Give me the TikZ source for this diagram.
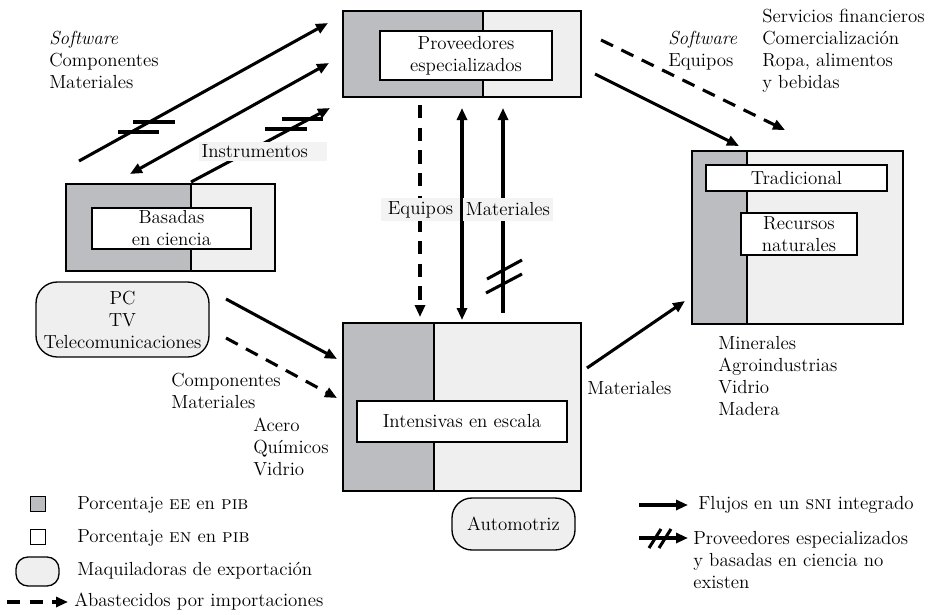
\documentclass[tikz,border=0pt]{standalone}
\usetikzlibrary{arrows.meta}
\definecolor{dk}{HTML}{BCBDC0}
\definecolor{lt}{HTML}{EFEFEF}
\definecolor{lb}{HTML}{F3F3F3}
\newcommand\sectorbox[5]{%
  \fill[lt] (#1,#2) rectangle (#4,#5);
  \fill[dk] (#1,#2) rectangle (#3,#5);
  \draw[line width=1pt] (#3,#2) -- (#3,#5);
  \draw[line width=1.2pt] (#1,#2) rectangle (#4,#5);}
\begin{document}
\begin{tikzpicture}[x=0.75pt,y=-0.75pt,
  font=\fontsize{14.2}{16.5}\selectfont,
  txt/.style={inner sep=0pt, align=left, anchor=west},
  inbox/.style={draw, fill=white, line width=1pt, inner sep=0pt, align=center},
  pill/.style={draw, fill=lt, line width=1pt, inner sep=0pt, align=center},
  flow/.style={line width=2.3pt, -{Triangle[length=9pt,width=7.5pt]}},
  both/.style={line width=2.3pt, {Triangle[length=9pt,width=7.5pt]}-{Triangle[length=9pt,width=7.5pt]}},
  imp/.style={flow, dash pattern=on 10pt off 7pt},
  bar/.style={line width=2.3pt},
  lab/.style={fill=lb, inner sep=0pt}]
\useasboundingbox (0,0) rectangle (928,614);

% sector boxes
\sectorbox{343}{11}{483}{581}{97}
\sectorbox{66}{184}{191}{275}{271}
\sectorbox{343}{323}{434}{581}{491}
\sectorbox{692}{151}{747}{903}{324}

\node[inbox, minimum width=129pt, minimum height=36.75pt] (prov) at (466,55.5) {Proveedores\\especializados};
\node[inbox, minimum width=119.25pt, minimum height=30.75pt] (bas) at (171.5,228.5) {Basadas\\en ciencia};
\node[inbox, minimum width=157.5pt, minimum height=30.75pt] (int) at (462,421.5) {Intensivas en escala};
\node[inbox, minimum width=135.75pt, minimum height=19.5pt] (trad) at (796.5,178) {Tradicional};
\node[inbox, minimum width=87pt, minimum height=31.5pt] (rec) at (799,234) {Recursos\\naturales};

\node[pill, rounded corners=16pt, minimum width=129.75pt, minimum height=56.25pt] (pc) at (122.5,319.5) {PC\\TV\\Telecomunicaciones};
\node[pill, rounded corners=15pt, minimum width=92.25pt, minimum height=39pt] (auto) at (513.5,524) {Automotriz};

% connector endpoints
\coordinate (a1s) at (79,161);  \coordinate (a1e) at (328,23);
\coordinate (a2s) at (130,174); \coordinate (a2e) at (329,63);
\coordinate (a3s) at (191,182); \coordinate (a3e) at (330,108);
\coordinate (a4s) at (420,105); \coordinate (a4e) at (420,317);
\coordinate (a5s) at (462,108); \coordinate (a5e) at (462,320);
\coordinate (a6s) at (503,313); \coordinate (a6e) at (503,108);
\coordinate (a7s) at (601,40);  \coordinate (a7e) at (785,130);
\coordinate (a8s) at (595,74);  \coordinate (a8e) at (739,146);
\coordinate (a9s) at (226,299); \coordinate (a9e) at (337,359);
\coordinate (a10s) at (226,338); \coordinate (a10e) at (337,398);
\coordinate (a11s) at (587,368); \coordinate (a11e) at (685,301);

\draw[flow] (a1s) -- (a1e);
\draw[bar] (133,122) -- (175,122);
\draw[bar] (118,132) -- (159,132);
\draw[both] (a2s) -- (a2e);
\draw[flow] (a3s) -- (a3e);
\draw[bar] (282,119) -- (323,119);
\draw[bar] (265,129) -- (307,129);
\node[lab, minimum width=96pt, minimum height=14.25pt, text width=92pt, align=left] (instr) at (263,151.5) {Instrumentos};

\draw[imp] (a4s) -- (a4e);
\draw[both] (a5s) -- (a5e);
\draw[flow] (a6s) -- (a6e);
\draw[bar] (487,279) -- (522,260);
\draw[bar] (486,293) -- (522,274);
\node[lab, minimum width=59.25pt, minimum height=17.25pt] (equ) at (420.5,209.5) {Equipos};
\node[lab, minimum width=67.5pt, minimum height=17.25pt] (mat) at (508,209.5) {Materiales};

\draw[imp] (a7s) -- (a7e);
\draw[flow] (a8s) -- (a8e);
\draw[flow] (a9s) -- (a9e);
\draw[imp] (a10s) -- (a10e);
\draw[flow] (a11s) -- (a11e);

% texts
\node[txt] (t1) at (49,60) {\textit{Software}\\Componentes\\Materiales};
\node[txt] (t2) at (668,51) {\textit{Software}\\Equipos};
\node[txt] (t3) at (762,51) {Servicios financieros\\Comercialización\\Ropa, alimentos\\y bebidas};
\node[txt] (t4) at (171,391) {Componentes\\Materiales};
\node[txt] (t5) at (253,447) {Acero\\Químicos\\Vidrio};
\node[txt] (t6) at (587,388) {Materiales};
\node[txt] (t7) at (718,376) {Minerales\\Agroindustrias\\Vidrio\\Madera};

% legend
\node[draw, fill=dk, line width=1pt, minimum size=11pt, inner sep=0pt] (lg1) at (38,504) {};
\node[txt] (lt1) at (77,505) {Porcentaje \textsc{ee} en \textsc{pib}};
\node[draw, fill=white, line width=1pt, minimum size=11pt, inner sep=0pt] (lg2) at (38,537) {};
\node[txt] (lt2) at (77,538) {Porcentaje \textsc{en} en \textsc{pib}};
\node[pill, rounded corners=9pt, minimum width=32.25pt, minimum height=21.75pt] (lg3) at (37.5,571.5) {};
\node[txt] (lt3) at (77,571) {Maquiladoras de exportación};
\coordinate (lg4s) at (7,602); \coordinate (lg4e) at (68,602);
\draw[imp] (lg4s) -- (lg4e);
\node[txt] (lt4) at (74,602) {Abastecidos por importaciones};

\coordinate (lg5s) at (639,505); \coordinate (lg5e) at (688,505);
\draw[flow] (lg5s) -- (lg5e);
\node[txt] (lt5) at (698,505) {Flujos en un \textsc{sni} integrado};
\coordinate (lg6s) at (639,538); \coordinate (lg6e) at (688,538);
\draw[flow] (lg6s) -- (lg6e);
\draw[bar] (649,548) -- (661,529);
\draw[bar] (659,548) -- (671,529);
\node[txt] (lt6) at (693,560) {Proveedores especializados\\y basadas en ciencia no\\existen};
\end{tikzpicture}
\end{document}
